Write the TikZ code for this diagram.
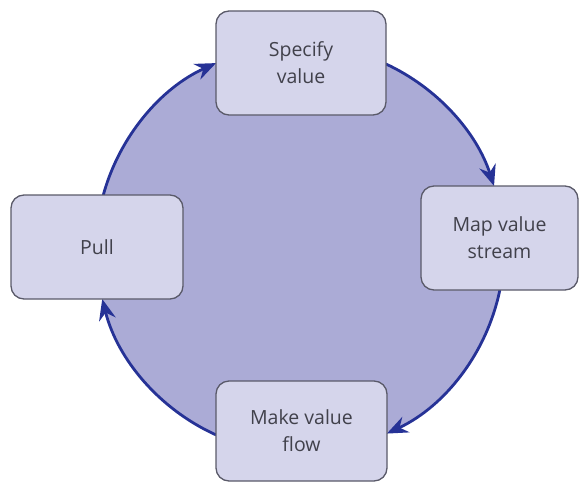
\documentclass[tikz,border=0pt]{standalone}
\usepackage{fontspec}
\setmainfont{Open Sans}
\usetikzlibrary{arrows.meta,calc}
\definecolor{circfill}{RGB}{171,171,214}
\definecolor{boxfill}{RGB}{213,213,235}
\definecolor{boxline}{RGB}{90,90,105}
\definecolor{arcblue}{RGB}{38,50,150}
\definecolor{txt}{RGB}{65,65,75}
\begin{document}
\begin{tikzpicture}[x=1pt,y=1pt,
  stage/.style={draw=boxline, line width=1.3pt, fill=boxfill, rounded corners=13pt,
    minimum height=104pt, align=center, font=\fontsize{19.5}{27}\selectfont,
    text=txt, inner sep=0pt},
  flow/.style={draw=arcblue, line width=2.8pt, -{Stealth[length=21pt,width=17pt,inset=7pt]}}]
\useasboundingbox (0,0) rectangle (580,483);
\coordinate (c) at (300,234);
\fill[circfill] (c) circle[radius=204];
\coordinate (a1) at ($(c)+(164.65:204)$);
\coordinate (a2) at ($(c)+(65.1:204)$);
\coordinate (a3) at ($(c)+(-11.6:204)$);
\coordinate (a4) at ($(c)+(-114.3:204)$);
\draw[flow] (a1) arc[start angle=164.65, end angle=114.3, radius=204];
\draw[flow] (a2) arc[start angle=65.1, end angle=18.0, radius=204];
\draw[flow] (a3) arc[start angle=-11.6, end angle=-64.8, radius=204];
\draw[flow] (a4) arc[start angle=-114.3, end angle=-165.8, radius=204];
\node[stage, minimum width=170pt] (spec) at (301,420) {Specify\\value};
\node[stage, minimum width=157pt] (map) at (499.5,245) {Map value\\stream};
\node[stage, minimum width=172pt] (pull) at (97,236) {Pull};
\node[stage, minimum width=171pt, minimum height=100pt] (make) at (301.5,52) {Make value\\flow};
\end{tikzpicture}
\end{document}
